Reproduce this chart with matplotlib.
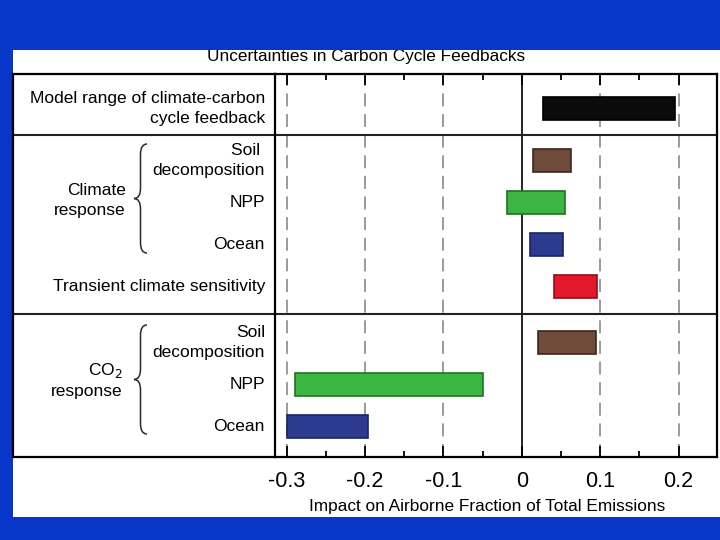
import matplotlib
matplotlib.use("Agg")
import matplotlib.pyplot as plt
from matplotlib.path import Path
from matplotlib.patches import PathPatch, Rectangle
from matplotlib.transforms import blended_transform_factory

plt.rcParams['font.family'] = ['Liberation Sans', 'DejaVu Sans']

# Rows, top to bottom
row_labels = ["Model range of climate-carbon\ncycle feedback",
              "Soil \ndecomposition", "NPP", "Ocean",
              "Transient climate sensitivity",
              "Soil\ndecomposition", "NPP", "Ocean"]
low = [0.027, 0.014, -0.019, 0.011, 0.041, 0.020, -0.290, -0.300]
high = [0.196, 0.063, 0.055, 0.052, 0.096, 0.094, -0.049, -0.196]
face_colors = ["#0b0b0b", "#6e4b3b", "#3db541", "#2c3a8f", "#e3182b",
               "#6e4b3b", "#3db541", "#2c3a8f"]
edge_colors = ["#000000", "#3b281d", "#22702a", "#1a2462", "#8c1020",
               "#3b281d", "#22702a", "#1a2462"]
group_labels = ["Climate\nresponse", "CO$_2$\nresponse"]
xticks = [-0.3, -0.2, -0.1, 0, 0.1, 0.2]
xtick_labels = ["-0.3", "-0.2", "-0.1", "0", "0.1", "0.2"]

# layout: row index plus a gap per section
gaps = [0, 0.25, 0.25, 0.25, 0.25, 0.6, 0.6, 0.6]
pos = [i + g for i, g in enumerate(gaps)]

W, H = 720, 540
fig = plt.figure(figsize=(7.2, 5.4), dpi=100)
fig.patch.set_facecolor("#0736c9")

# white slide panel
fig.patches.append(Rectangle((13 / W, 1 - 517 / H), (W - 13) / W, (517 - 50) / H,
                             transform=fig.transFigure, facecolor="white",
                             edgecolor="none", zorder=-5))

ax = fig.add_axes([275 / W, 1 - 457 / H, (717 - 275) / W, (457 - 74) / H])
ax.set_facecolor("white")
ax.set_xlim(-0.315, 0.249)
ax.set_ylim(8.34, -0.825)

widths = [h - l for l, h in zip(low, high)]
ax.barh(pos, widths, left=low, height=0.55, color=face_colors,
        edgecolor=edge_colors, linewidth=1.2, zorder=3)

for t in xticks:
    if t == 0:
        ax.axvline(0, color="black", lw=1.2, zorder=2)
    else:
        ax.axvline(t, color="#808080", lw=1.1, linestyle=(0, (8.5, 5)), zorder=1)

ax.set_xticks(xticks)
ax.set_xticklabels(xtick_labels, fontsize=15.5)
ax.set_xticks([-0.25, -0.15, -0.05, 0.05, 0.15], minor=True)
ax.tick_params(axis="x", which="major", direction="in", length=8, width=1.3,
               top=True, bottom=True, pad=10)
ax.tick_params(axis="x", which="minor", direction="in", length=4, width=1.3,
               top=True, bottom=True)
ax.set_yticks([])
for s in ax.spines.values():
    s.set_linewidth(1.6)

# left label column (x in figure fraction, y in data)
tr = blended_transform_factory(fig.transFigure, ax.transData)
for p, lab in zip(pos, row_labels):
    ax.text(265 / W, p, lab, transform=tr, ha="right", va="center",
            fontsize=12.5, linespacing=1.45, clip_on=False)

# section dividers and outer frame of the label column
for yd in [0.634, 4.916]:
    ax.plot([13 / W, 717 / W], [yd, yd], transform=tr, color="#222222",
            lw=1.5, clip_on=False)
ylo, yhi = ax.get_ylim()
ax.plot([13 / W, 13 / W], [ylo, yhi], transform=tr, color="black", lw=1.6, clip_on=False)
ax.plot([13 / W, 275 / W], [ylo, ylo], transform=tr, color="black", lw=1.6, clip_on=False)
ax.plot([13 / W, 275 / W], [yhi, yhi], transform=tr, color="black", lw=1.6, clip_on=False)


def brace(y0, y1, x_tip, x_back):
    ym = (y0 + y1) / 2
    xm = (x_tip + x_back) / 2
    d = 0.25
    verts = [(x_back, y0), (xm, y0), (xm, y0 + d),
             (xm, ym - d), (xm, ym), (x_tip, ym),
             (xm, ym), (xm, ym + d),
             (xm, y1 - d), (xm, y1), (x_back, y1)]
    codes = [Path.MOVETO, Path.CURVE3, Path.CURVE3,
             Path.LINETO, Path.CURVE3, Path.CURVE3,
             Path.CURVE3, Path.CURVE3,
             Path.LINETO, Path.CURVE3, Path.CURVE3]
    ax.add_patch(PathPatch(Path(verts, codes), transform=tr, fill=False,
                           edgecolor="#2a2a2a", lw=1.1, clip_on=False))


brace(pos[1] - 0.4, pos[3] + 0.21, 134 / W, 147 / W)
brace(pos[5] - 0.42, pos[7] + 0.19, 134 / W, 147 / W)

ax.text(126 / W, (pos[1] + pos[3]) / 2 - 0.05, group_labels[0], transform=tr,
        ha="right", va="center", fontsize=12.5, linespacing=1.45, clip_on=False)
ax.text(123 / W, (pos[5] + pos[7]) / 2 - 0.1, group_labels[1], transform=tr,
        ha="right", va="center", fontsize=12.5, linespacing=1.3, clip_on=False)

fig.text(487 / W, 1 - 507 / H, "Impact on Airborne Fraction of Total Emissions",
         ha="center", va="center", fontsize=12.4)
fig.text(366 / W, 1 - 57 / H, "Uncertainties in Carbon Cycle Feedbacks",
         ha="center", va="center", fontsize=12.4)

# blue band covering the top of the title, as on the slide
fig.patches.append(Rectangle((0, 1 - 50 / H), 1, 50 / H, transform=fig.transFigure,
                             facecolor="#0736c9", edgecolor="none", zorder=10))

fig.savefig("out.png", dpi=100, facecolor=fig.get_facecolor())
